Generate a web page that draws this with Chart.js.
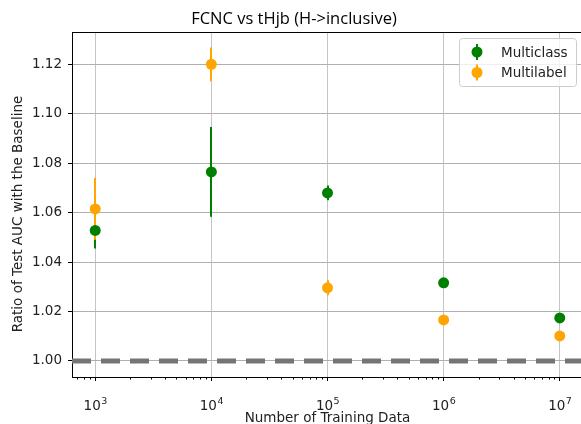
<!DOCTYPE html>
<html>
<head>
<meta charset="utf-8">
<title>FCNC vs tHjb (H->inclusive)</title>
<script src="https://cdn.jsdelivr.net/npm/chart.js@4.4.1/dist/chart.umd.min.js"></script>
<style>
    html, body { margin: 0; padding: 0; background: #fff; overflow: hidden; }
    #wrap { width: 600px; height: 440px; }
</style>
</head>
<body>
<div id="wrap"><canvas id="chart" width="600" height="440"></canvas></div>
<script>
// values
const trainingSizes   = [1e3, 1e4, 1e5, 1e6, 1e7];
const multiclassRatio = [1.0528, 1.0765, 1.0680, 1.0316, 1.0174];
const multiclassErr   = [0.0073, 0.0182, 0.0030, 0.0008, 0.0006];
const multilabelRatio = [1.0615, 1.1200, 1.0296, 1.0166, 1.0101];
const multilabelErr   = [0.0125, 0.0068, 0.0030, 0.0008, 0.0006];
const xTicks          = [1e3, 1e4, 1e5, 1e6, 1e7];
const yTicks          = [1.00, 1.02, 1.04, 1.06, 1.08, 1.10, 1.12];
const baselineRatio   = 1.0;

const SERIES_COLORS = {
    Multiclass: "#008000",
    Multilabel: "#ffa500"
};

const TICK_FONT = { family: "DejaVu Sans", size: 13.5 };

function makeDataset(label, values, errors)
{
    return {
        label: label,
        data: trainingSizes.map((x, i) => ({ x: x, y: values[i], err: errors[i] })),
        backgroundColor: SERIES_COLORS[label],
        borderColor: SERIES_COLORS[label],
        borderWidth: 0,
        pointRadius: 5.5,
        pointHoverRadius: 5.5,
        showLine: false
    };
}

// error bars go under all markers, like matplotlib does it
const errorBarPlugin = {
    id: "errorBars",
    beforeDatasetsDraw(chart)
    {
        const ctx = chart.ctx;
        const xs = chart.scales.x, ys = chart.scales.y;
        const area = chart.chartArea;
        ctx.save();
        ctx.beginPath();
        ctx.rect(area.left, area.top, area.right - area.left, area.bottom - area.top);
        ctx.clip();
        ctx.lineWidth = 2;
        chart.data.datasets.forEach(ds => {
            ctx.strokeStyle = ds.borderColor;
            ds.data.forEach(p => {
                const px = Math.round(xs.getPixelForValue(p.x));
                ctx.beginPath();
                ctx.moveTo(px, ys.getPixelForValue(p.y - p.err));
                ctx.lineTo(px, ys.getPixelForValue(p.y + p.err));
                ctx.stroke();
            });
        });
        ctx.restore();
    },
    afterDatasetsDraw(chart)
    {
        const ctx = chart.ctx;
        const ys = chart.scales.y;
        const area = chart.chartArea;
        const py = ys.getPixelForValue(baselineRatio);
        ctx.save();
        ctx.beginPath();
        ctx.rect(area.left, area.top, area.right - area.left, area.bottom - area.top);
        ctx.clip();
        ctx.strokeStyle = "#757575";
        ctx.lineWidth = 5;
        ctx.setLineDash([19, 10]);
        ctx.beginPath();
        ctx.moveTo(area.left, py);
        ctx.lineTo(area.right, py);
        ctx.stroke();
        ctx.restore();
    },
    afterDraw(chart)
    {
        const ctx = chart.ctx;
        const xs = chart.scales.x;
        const area = chart.chartArea;
        ctx.save();

        // top and right spines
        ctx.strokeStyle = "#000";
        ctx.lineWidth = 1;
        ctx.beginPath();
        ctx.moveTo(area.left, area.top + 0.5);
        ctx.lineTo(area.right, area.top + 0.5);
        ctx.moveTo(area.right - 0.5, area.top);
        ctx.lineTo(area.right - 0.5, area.bottom);
        ctx.stroke();

        // minor ticks on the log axis
        ctx.beginPath();
        for (let k = 2; k <= 7; k++)
        {
            for (let m = 2; m <= 9; m++)
            {
                const v = m * Math.pow(10, k);
                if (v < xs.min || v > xs.max) continue;
                const px = Math.round(xs.getPixelForValue(v)) + 0.5;
                ctx.moveTo(px, area.bottom);
                ctx.lineTo(px, area.bottom + 2.5);
            }
        }
        ctx.stroke();

        // x tick labels as 10 with a raised exponent
        ctx.fillStyle = "#222";
        ctx.textBaseline = "alphabetic";
        ctx.textAlign = "left";
        xs.ticks.forEach(t => {
            const px = xs.getPixelForValue(t.value);
            const exp = String(Math.round(Math.log10(t.value)));
            ctx.font = "13.5px 'DejaVu Sans'";
            const wBase = ctx.measureText("10").width;
            ctx.font = "9.5px 'DejaVu Sans'";
            const wExp = ctx.measureText(exp).width;
            const x0 = px - (wBase + wExp) / 2;
            ctx.font = "13.5px 'DejaVu Sans'";
            ctx.fillText("10", x0, 410);
            ctx.font = "9.5px 'DejaVu Sans'";
            ctx.fillText(exp, x0 + wBase + 0.5, 404);
        });

        // title
        ctx.fillStyle = "#000";
        ctx.font = "16.5px 'Open Sans'";
        ctx.textAlign = "center";
        ctx.fillText("FCNC vs tHjb (H->inclusive)", 294, 24);

        // y axis title
        ctx.save();
        ctx.translate(18, 214);
        ctx.rotate(-Math.PI / 2);
        ctx.font = "13.5px 'DejaVu Sans'";
        ctx.fillStyle = "#222";
        ctx.textBaseline = "middle";
        ctx.fillText("Ratio of Test AUC with the Baseline", 0, 0);
        ctx.restore();

        // legend box
        ctx.fillStyle = "rgba(255,255,255,0.8)";
        ctx.strokeStyle = "#cccccc";
        ctx.beginPath();
        ctx.roundRect(459.5, 38.5, 117, 48, 3);
        ctx.fill();
        ctx.stroke();

        ctx.font = "13.5px 'DejaVu Sans'";
        ctx.textAlign = "left";
        ctx.textBaseline = "middle";
        chart.data.datasets.forEach((ds, i) => {
            const cy = 52 + i * 20.5;
            const cx = 477;
            ctx.strokeStyle = ds.borderColor;
            ctx.lineWidth = 2;
            ctx.beginPath();
            ctx.moveTo(cx, cy - 8);
            ctx.lineTo(cx, cy + 8);
            ctx.stroke();
            ctx.fillStyle = ds.backgroundColor;
            ctx.beginPath();
            ctx.arc(cx, cy, 5.5, 0, Math.PI * 2);
            ctx.fill();
            ctx.fillStyle = "#222";
            ctx.fillText(ds.label, 501, cy + 1);
        });

        ctx.restore();
    }
};

const chart = new Chart(document.getElementById("chart").getContext("2d"), {
    type: "scatter",
    data: {
        datasets: [
            makeDataset("Multiclass", multiclassRatio, multiclassErr),
            makeDataset("Multilabel", multilabelRatio, multilabelErr)
        ]
    },
    options: {
        responsive: false,
        animation: false,
        devicePixelRatio: 1,
        layout: { padding: { top: 32, right: 17, left: 0, bottom: 0 } },
        plugins: {
            legend: { display: false },
            title: { display: false },
            tooltip: { enabled: false }
        },
        scales: {
            x: {
                type: "logarithmic",
                min: Math.pow(10, 2.8),
                max: Math.pow(10, 7.2),
                afterBuildTicks: scale => { scale.ticks = xTicks.map(v => ({ value: v, major: true })); },
                afterFit: scale => { scale.height = 63; },
                ticks: {
                    autoSkip: false,
                    maxRotation: 0,
                    font: TICK_FONT,
                    callback: () => ""
                },
                grid: { color: "#c4c4c4", lineWidth: 1, tickLength: 4, tickColor: "#000" },
                border: { color: "#000", width: 1 },
                title: {
                    display: true,
                    text: "Number of Training Data",
                    color: "#222",
                    font: TICK_FONT,
                    padding: { top: 0, bottom: 13 }
                }
            },
            y: {
                type: "linear",
                min: 0.9935,
                max: 1.1331,
                afterBuildTicks: scale => { scale.ticks = yTicks.map(v => ({ value: v })); },
                afterFit: scale => { scale.width = 72; },
                ticks: {
                    padding: 6,
                    color: "#222",
                    font: TICK_FONT,
                    callback: v => Number(v).toFixed(2)
                },
                grid: { color: "#b0b0b0", lineWidth: 1, tickLength: 4, tickColor: "#000" },
                border: { color: "#000", width: 1 }
            }
        }
    },
    plugins: [errorBarPlugin]
});
</script>
</body>
</html>
